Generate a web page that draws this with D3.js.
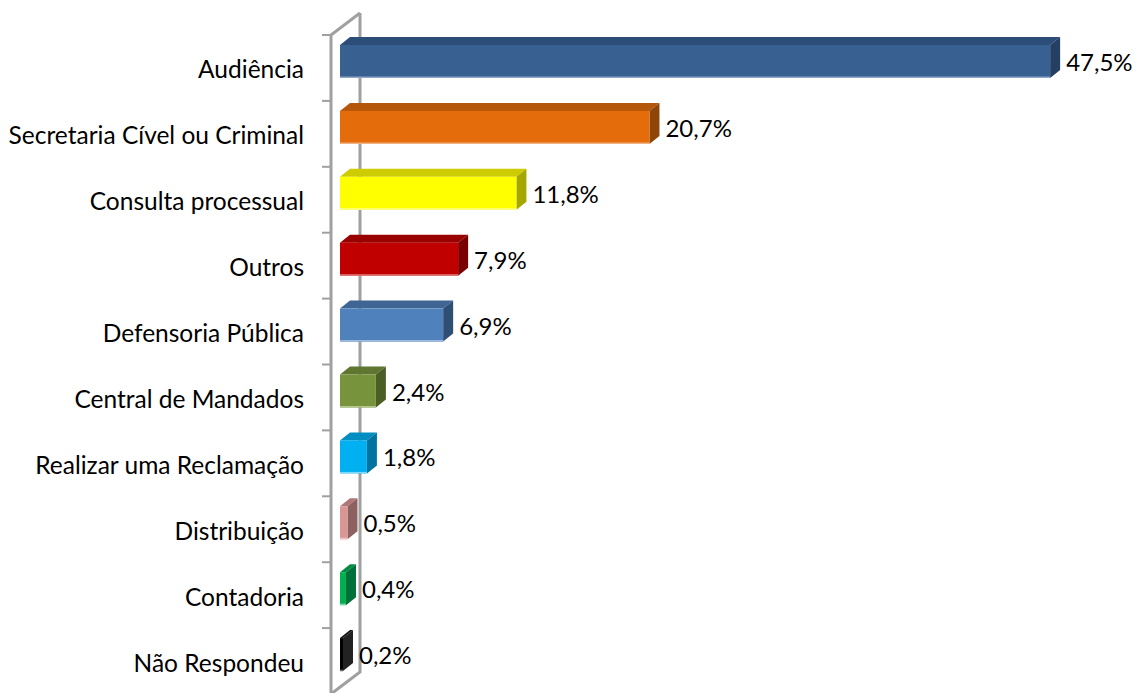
<!DOCTYPE html>
<html>
<head>
<meta charset="utf-8">
<script src="https://cdn.jsdelivr.net/npm/d3@7"></script>
<style>
  html, body { margin: 0; padding: 0; background: #ffffff; }
  svg { display: block; }
  text { font-family: "Lato", "Liberation Sans", sans-serif; fill: #000; }
</style>
</head>
<body>
<svg id="chart" width="1143" height="693"></svg>
<script>
// Motivo da visita – percentual de respostas
const categories = [
  "Audiência",
  "Secretaria Cível ou Criminal",
  "Consulta processual",
  "Outros",
  "Defensoria Pública",
  "Central de Mandados",
  "Realizar uma Reclamação",
  "Distribuição",
  "Contadoria",
  "Não Respondeu"
];
const values = [47.5, 20.7, 11.8, 7.9, 6.9, 2.4, 1.8, 0.5, 0.4, 0.2];
const valueLabels = ["47,5%", "20,7%", "11,8%", "7,9%", "6,9%", "2,4%", "1,8%", "0,5%", "0,4%", "0,2%"];

// face colours per bar: front, top, side, lower edge
const frontColors = ["#386192", "#e46c0a", "#ffff00", "#c00000", "#4f81bd", "#77933c", "#00b0f0", "#d99694", "#00b050", "#000000"];
const topColors   = ["#2c4d77", "#b5570a", "#cccc00", "#990000", "#3e6594", "#5f7630", "#008ec2", "#ad7877", "#008c40", "#111111"];
const sideColors  = ["#243f62", "#8f4508", "#a6a600", "#7a0000", "#2f4e74", "#4b5e26", "#0073a0", "#8c6160", "#00703a", "#222222"];
const edgeColors  = ["#8ea6c8", "#f2b183", "#ffff99", "#e08080", "#9fb9dc", "#b3c68e", "#80d8f8", "#ecc8c7", "#80d8a8", "#666666"];

const svg = d3.select("#chart");

const x0 = 340;
const x = d3.scaleLinear().domain([0, 50]).range([x0, x0 + 747.5]);
const y = d3.scaleBand().domain(categories).range([35, 694]);

// 3D category wall on the left
const wallFront = 331, wallBack = 360, wallTop = y.range()[0], wallBottom = y.range()[1];
const wdy = 22;
const wallColor = "#a0a0a0";

const wall = svg.append("g");
wall.append("path")
  .attr("d", `M${wallFront},${wallBottom} L${wallFront},${wallTop} L${wallBack},${wallTop - wdy}`)
  .attr("fill", "none").attr("stroke", wallColor).attr("stroke-width", 3);
wall.append("path")
  .attr("d", `M${wallBack},${wallTop - wdy} L${wallBack},${wallBottom - wdy} L${wallFront},${wallBottom}`)
  .attr("fill", "none").attr("stroke", wallColor).attr("stroke-width", 3);

// category tick marks at band boundaries
const boundaries = categories.map(c => y(c)).concat([wallBottom]);
wall.selectAll("line.tick").data(boundaries).join("line")
  .attr("class", "tick")
  .attr("x1", wallFront - 9).attr("x2", wallFront)
  .attr("y1", d => d).attr("y2", d => d)
  .attr("stroke", wallColor).attr("stroke-width", 2);

// bars
const dx = 10, dy = 8;
const barOffset = 10, barH = 33;

const bars = svg.append("g").selectAll("g.bar")
  .data(categories.map((c, i) => ({ c, v: values[i], i })))
  .join("g").attr("class", "bar");

bars.each(function (d) {
  const g = d3.select(this);
  const top = y(d.c) + barOffset, bot = top + barH;
  const xs = x(0), xe = x(d.v);
  // top face
  g.append("path")
    .attr("d", `M${xs},${top} L${xs + dx},${top - dy} L${xe + dx},${top - dy} L${xe},${top} Z`)
    .attr("fill", topColors[d.i]);
  // side face
  g.append("path")
    .attr("d", `M${xe},${top} L${xe + dx},${top - dy} L${xe + dx},${bot - dy} L${xe},${bot} Z`)
    .attr("fill", sideColors[d.i]);
  // front face
  g.append("rect")
    .attr("x", xs).attr("y", top)
    .attr("width", xe - xs).attr("height", barH)
    .attr("fill", frontColors[d.i]);
  // lower highlight edge
  g.append("line")
    .attr("x1", xs).attr("x2", xe)
    .attr("y1", bot - 0.75).attr("y2", bot - 0.75)
    .attr("stroke", edgeColors[d.i]).attr("stroke-width", 1.5);
  // value label
  g.append("text")
    .attr("x", xe + dx + 6)
    .attr("y", top + barH / 2)
    .attr("dominant-baseline", "central")
    .attr("font-size", 24)
    .text(valueLabels[d.i]);
});

// category labels
svg.append("g").selectAll("text.cat")
  .data(categories).join("text")
  .attr("class", "cat")
  .attr("x", 304)
  .attr("y", d => y(d) + y.bandwidth() / 2 + 1)
  .attr("text-anchor", "end")
  .attr("dominant-baseline", "central")
  .attr("font-size", 24.5)
  .text(d => d);
</script>
</body>
</html>
